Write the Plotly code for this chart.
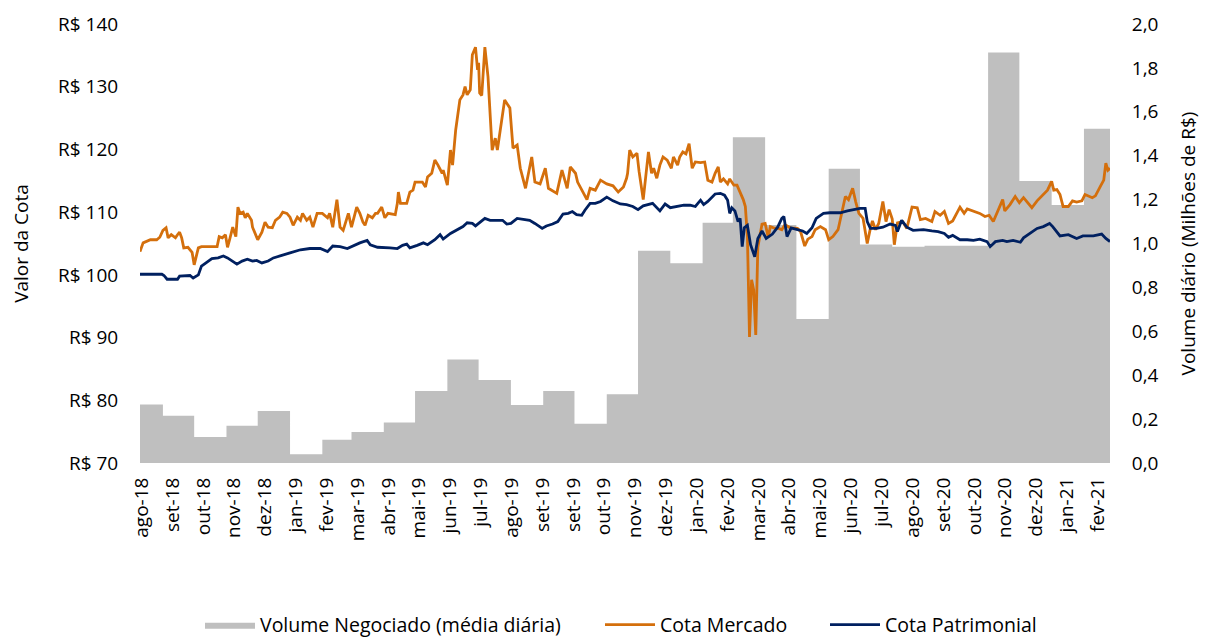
import pandas as pd
import plotly.graph_objects as go

INICIO = pd.Timestamp("2018-08-10")
FIM = pd.Timestamp("2021-02-26")

# Volume negociado (média diária, milhões de R$) – um valor por mês
volume_meses = ["2018-08-10", "2018-09-01", "2018-10-01", "2018-11-01", "2018-12-01",
                "2019-01-01", "2019-02-01", "2019-03-01", "2019-04-01", "2019-05-01",
                "2019-06-01", "2019-07-01", "2019-08-01", "2019-09-01", "2019-10-01",
                "2019-11-01", "2019-12-01", "2020-01-01", "2020-02-01", "2020-03-01",
                "2020-04-01", "2020-05-01", "2020-06-01", "2020-07-01", "2020-08-01",
                "2020-09-01", "2020-10-01", "2020-11-01", "2020-12-01", "2021-01-01",
                "2021-02-01"]
volume_valor = [0.267, 0.215, 0.118, 0.170, 0.237,
                0.040, 0.106, 0.141, 0.184, 0.328,
                0.472, 0.378, 0.264, 0.328, 0.179,
                0.313, 0.967, 0.910, 1.095, 1.484,
                1.084, 0.656, 1.341, 0.996, 0.985,
                0.990, 0.990, 1.870, 1.285, 1.175,
                1.523]

# Cota Mercado (dias contados a partir de 10/08/2018)
mercado_dia = [0, 3, 10, 16, 19, 22, 25, 27, 30, 34,
               36, 38, 40, 42, 46, 50, 52, 56, 59, 67,
               74, 76, 79, 82, 84, 86, 89, 92, 94, 96,
               99, 101, 103, 107, 108, 113, 117, 120, 123, 127,
               130, 134, 137, 141, 144, 147, 151, 154, 156, 160,
               163, 166, 170, 175, 180, 182, 185, 187, 189, 192,
               195, 200, 203, 208, 211, 214, 216, 219, 223, 226,
               228, 232, 235, 238, 245, 247, 248, 250, 256, 259,
               262, 264, 271, 274, 276, 280, 283, 286, 290, 291,
               295, 298, 300, 303, 307, 310, 312, 314, 317, 319,
               322, 324, 325, 326, 328, 331, 334, 338, 341, 343,
               346, 348, 350, 355, 358, 362, 365, 370, 376, 379,
               384, 389, 392, 400, 405, 410, 413, 418, 420, 429,
               432, 437, 442, 448, 454, 459, 464, 467, 468, 470,
               473, 477, 479, 483, 486, 488, 491, 493, 496, 499,
               502, 506, 510, 512, 516, 518, 521, 524, 527, 530,
               533, 538, 542, 545, 549, 552, 555, 557, 560, 564,
               566, 570, 573, 576, 579, 581, 583, 585, 587, 589,
               591, 593, 597, 600, 603, 605, 608, 613, 616, 619,
               624, 631, 634, 638, 641, 645, 648, 653, 658, 661,
               665, 670, 674, 677, 680, 684, 687, 690, 694, 696,
               698, 701, 703, 706, 709, 713, 716, 719, 722, 724,
               727, 732, 736, 741, 746, 749, 754, 760, 763, 768,
               772, 776, 780, 787, 791, 794, 800, 806, 811, 815,
               819, 823, 828, 830, 835, 840, 844, 848, 852, 856,
               861, 867, 871, 875, 877, 880, 883, 886, 891, 895,
               899, 904, 907, 914, 917, 922, 925, 927, 929, 931]
mercado_valor = [103.7, 105.1, 105.6, 105.6, 106.0, 107.1, 107.5, 105.9, 106.4, 105.9,
                 106.4, 106.8, 105.9, 104.3, 104.4, 103.6, 101.6, 104.3, 104.5, 104.5,
                 104.5, 106.1, 105.9, 106.4, 104.4, 105.6, 107.6, 106.1, 110.8, 109.8,
                 110.0, 109.1, 109.8, 108.7, 107.6, 105.6, 106.8, 108.4, 107.6, 107.5,
                 108.7, 109.2, 110.0, 109.8, 109.2, 107.9, 109.2, 108.7, 109.8, 108.7,
                 109.2, 107.6, 109.8, 109.8, 109.1, 109.8, 107.6, 109.8, 112.0, 107.6,
                 107.1, 109.8, 107.6, 110.8, 109.8, 108.4, 107.9, 109.5, 109.1, 109.8,
                 109.8, 110.8, 109.1, 109.8, 109.6, 111.4, 113.2, 111.4, 111.4, 113.2,
                 113.5, 114.8, 114.8, 114.0, 115.6, 116.2, 118.3, 117.5, 116.2, 116.7,
                 114.3, 119.9, 117.5, 123.1, 127.9, 128.7, 130.0, 128.7, 129.5, 135.1,
                 136.3, 132.7, 133.8, 129.0, 128.6, 136.3, 131.6, 119.9, 121.8, 119.9,
                 123.4, 125.7, 127.9, 126.6, 120.2, 120.7, 117.0, 113.8, 118.8, 114.8,
                 114.5, 117.0, 113.8, 113.0, 116.7, 113.8, 117.2, 116.2, 114.8, 112.0,
                 113.8, 113.5, 115.1, 114.5, 114.2, 113.2, 114.0, 115.4, 116.2, 119.9,
                 118.8, 119.4, 116.5, 112.0, 116.7, 119.6, 116.2, 117.0, 115.4, 117.5,
                 118.8, 118.3, 117.0, 118.8, 117.5, 118.8, 119.6, 119.3, 120.9, 117.0,
                 118.0, 117.9, 118.0, 115.1, 114.8, 116.2, 117.2, 114.8, 115.3, 114.5,
                 115.3, 114.3, 114.3, 113.2, 112.0, 110.9, 106.1, 90.1, 99.2, 97.6,
                 90.4, 104.4, 108.1, 108.2, 106.0, 107.7, 107.5, 107.4, 107.2, 108.0,
                 107.5, 107.4, 106.9, 104.6, 105.7, 106.1, 107.2, 107.7, 107.2, 105.6,
                 106.1, 107.2, 110.4, 112.5, 112.0, 113.8, 111.6, 109.8, 109.0, 106.9,
                 105.0, 107.4, 108.6, 107.2, 108.2, 111.7, 108.5, 110.4, 108.9, 104.8,
                 108.3, 108.5, 107.4, 110.8, 110.7, 108.8, 109.0, 108.5, 110.1, 109.5,
                 110.1, 108.2, 108.6, 110.8, 109.8, 110.5, 110.1, 109.8, 109.3, 109.5,
                 108.5, 110.0, 112.0, 110.2, 111.2, 112.5, 111.5, 112.3, 111.4, 110.7,
                 111.8, 112.8, 113.5, 114.9, 113.5, 113.6, 112.8, 110.9, 110.9, 111.8,
                 111.6, 111.8, 112.8, 112.3, 112.6, 114.2, 115.1, 117.8, 116.7, 117.0]

# Cota Patrimonial (dias contados a partir de 10/08/2018)
patrimonial_dia = [0, 21, 23, 26, 36, 38, 48, 51, 56, 59,
                   64, 69, 75, 80, 84, 89, 93, 98, 103, 108,
                   112, 117, 123, 128, 137, 144, 154, 163, 173, 180,
                   185, 192, 199, 204, 211, 218, 221, 228, 233, 240,
                   247, 252, 256, 259, 266, 272, 276, 283, 288, 291,
                   298, 304, 310, 314, 319, 322, 326, 331, 336, 343,
                   348, 352, 356, 362, 368, 374, 379, 386, 390, 396,
                   401, 406, 411, 415, 419, 424, 427, 432, 437, 442,
                   448, 454, 461, 467, 473, 478, 483, 492, 499, 504,
                   509, 516, 522, 528, 533, 538, 541, 545, 552, 557,
                   561, 564, 566, 568, 571, 574, 576, 578, 580, 583,
                   586, 590, 593, 597, 601, 607, 612, 616, 618, 621,
                   625, 631, 636, 640, 645, 649, 653, 656, 662, 672,
                   679, 685, 691, 696, 698, 701, 707, 713, 720, 725,
                   727, 731, 736, 742, 747, 752, 760, 766, 772, 776,
                   780, 787, 794, 800, 806, 813, 816, 821, 828, 832,
                   838, 845, 848, 854, 861, 867, 873, 876, 883, 891,
                   899, 905, 915, 923, 927, 931]
patrimonial_valor = [100.1, 100.1, 99.9, 99.3, 99.3, 99.8, 99.9, 99.5, 100.0, 101.4,
                     102.0, 102.6, 102.7, 103.0, 102.7, 102.2, 101.7, 102.2, 102.5, 102.2,
                     102.3, 101.9, 102.2, 102.7, 103.2, 103.5, 104.0, 104.2, 104.2, 103.7,
                     104.6, 104.5, 104.2, 104.6, 105.1, 105.5, 104.8, 104.4, 104.4, 104.3,
                     104.2, 104.7, 104.9, 104.3, 104.7, 105.1, 104.8, 105.6, 106.4, 105.7,
                     106.6, 107.2, 107.7, 108.3, 108.2, 107.8, 108.3, 109.0, 108.7, 108.7,
                     108.7, 108.1, 108.2, 109.0, 108.9, 108.7, 108.2, 107.4, 107.8, 108.1,
                     108.5, 109.7, 109.8, 110.1, 109.6, 109.5, 110.3, 111.4, 111.4, 111.7,
                     112.4, 111.8, 111.3, 111.2, 110.9, 110.4, 111.0, 111.4, 110.2, 111.3,
                     110.7, 110.9, 111.1, 111.1, 110.9, 111.9, 111.2, 111.7, 112.9, 113.0,
                     112.7, 111.9, 109.8, 110.7, 110.2, 108.5, 109.0, 104.5, 107.5, 107.9,
                     104.8, 102.9, 105.8, 107.0, 105.8, 106.5, 107.6, 109.0, 109.3, 106.1,
                     107.5, 107.2, 107.0, 106.6, 107.5, 109.0, 109.5, 109.8, 109.9, 109.9,
                     110.2, 110.4, 110.6, 110.6, 108.5, 107.4, 107.4, 107.6, 108.1, 107.9,
                     106.9, 108.7, 107.6, 107.1, 107.2, 107.2, 107.0, 106.9, 106.6, 106.0,
                     106.3, 105.6, 105.6, 105.5, 105.7, 105.3, 104.5, 105.3, 105.5, 105.3,
                     105.5, 105.2, 105.9, 106.6, 107.4, 107.7, 108.2, 107.7, 106.2, 106.4,
                     105.8, 106.2, 106.2, 106.5, 105.8, 105.3]

# Rótulos do eixo X
rotulos_x = ["ago-18", "set-18", "out-18", "nov-18", "dez-18", "jan-19", "fev-19", "mar-19",
             "abr-19", "mai-19", "jun-19", "jul-19", "ago-19", "set-19", "set-19", "out-19",
             "nov-19", "dez-19", "jan-20", "fev-20", "mar-20", "abr-20", "mai-20", "jun-20",
             "jul-20", "ago-20", "set-20", "out-20", "nov-20", "dez-20", "jan-21", "fev-21"]

# ---------------------------------------------------------------------------
def dias_para_datas(dias):
    return [INICIO + pd.Timedelta(days=d) for d in dias]

vol_x = [pd.Timestamp(m) for m in volume_meses] + [FIM]
vol_y = volume_valor + [volume_valor[-1]]

# posições dos rótulos (espaçamento regular do eixo original)
tick_pos = [INICIO + pd.Timedelta(hours=(1.6 + 29.6 * k) * 24) for k in range(len(rotulos_x))]

CINZA = "#BFBFBF"
LARANJA = "#D46F0C"
AZUL = "#002060"
FONTE = "Open Sans"

# a página HTML tem 8 px de margem no <body>; a figura é ajustada a isso
LARG, ALT = 1199, 629

fig = go.Figure()
fig.add_trace(go.Scatter(
    x=vol_x, y=vol_y, mode="lines", name="Volume Negociado (média diária)",
    line=dict(width=0, shape="hv", color=CINZA), fill="tozeroy", fillcolor=CINZA,
    yaxis="y", legend="legend"))
fig.add_trace(go.Scatter(
    x=dias_para_datas(mercado_dia), y=mercado_valor, mode="lines", name="Cota Mercado",
    line=dict(width=2.8, color=LARANJA), yaxis="y2", legend="legend2"))
fig.add_trace(go.Scatter(
    x=dias_para_datas(patrimonial_dia), y=patrimonial_valor, mode="lines", name="Cota Patrimonial",
    line=dict(width=2.8, color=AZUL), yaxis="y2", legend="legend3"))

LEG_Y = (ALT - 617) / ALT
leg_common = dict(orientation="h", yanchor="middle", xanchor="left", y=LEG_Y,
                  xref="container", yref="container",
                  itemwidth=50, font=dict(size=19.5, color="#000", family=FONTE),
                  bgcolor="rgba(0,0,0,0)", borderwidth=0)

fig.update_layout(
    width=LARG, height=ALT,
    margin=dict(l=132, r=97, t=16, b=174, autoexpand=False),
    paper_bgcolor="white", plot_bgcolor="white",
    separators=",.",
    font=dict(family=FONTE, size=19, color="#000"),
    showlegend=True,
    xaxis=dict(type="date", range=[INICIO, FIM], tickmode="array",
               tickvals=tick_pos, ticktext=rotulos_x, tickangle=-90,
               showgrid=False, zeroline=False, showline=False, automargin=False,
               ticks="outside", ticklen=6, tickcolor="rgba(0,0,0,0)",
               tickfont=dict(size=19)),
    yaxis=dict(side="right", range=[0, 2.0], tick0=0, dtick=0.2, tickformat=".1f",
               showgrid=False, zeroline=False, showline=False, automargin=False,
               ticks="outside", ticklen=17, tickcolor="rgba(0,0,0,0)",
               tickfont=dict(size=19),
               title=dict(text="Volume diário (Milhões de R$)", standoff=24,
                          font=dict(size=19))),
    yaxis2=dict(overlaying="y", side="left", range=[70, 140], tick0=70, dtick=10,
                tickprefix="R$ ", showgrid=False, zeroline=False, showline=False,
                automargin=False,
                ticks="outside", ticklen=17, tickcolor="rgba(0,0,0,0)",
                tickfont=dict(size=19),
                title=dict(text="Valor da Cota", standoff=28, font=dict(size=19))),
    legend=dict(x=192 / LARG, **leg_common),
    legend2=dict(x=592 / LARG, **leg_common),
    legend3=dict(x=817 / LARG, **leg_common),
)

fig.write_html("out.html")
